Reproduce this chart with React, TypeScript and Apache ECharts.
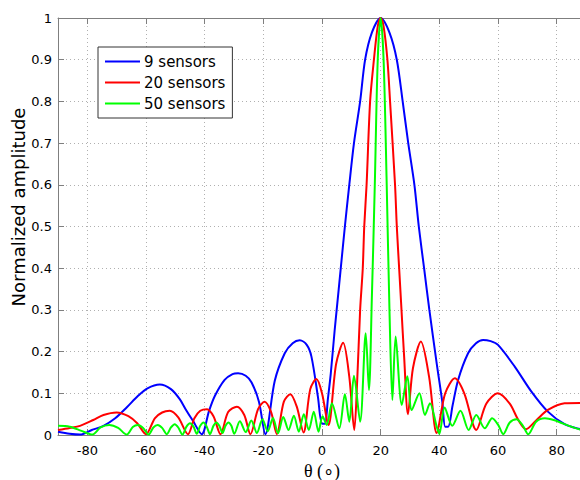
import React, { useEffect, useRef } from 'react';
import * as echarts from 'echarts';

const xTicks = [-80, -60, -40, -20, 0, 20, 40, 60, 80];
const seriesNames = ['9 sensors', '20 sensors', '50 sensors'];
const yTitle = 'Normalized amplitude';
const xTitle = 'θ (∘)';

const blueData: [number, number][] = [
  [-90, 0.008], [-86, 0.003], [-82.5, 0.001], [-78.5, 0.012], [-74.5, 0.022], [-70.5, 0.04],
  [-66.6, 0.066], [-62.7, 0.094], [-59.5, 0.112], [-55.3, 0.121], [-51.5, 0.11], [-48.5, 0.086],
  [-46.5, 0.062], [-44, 0.034], [-41, 0.002], [-38.5, 0.058], [-36.5, 0.094], [-33.2, 0.132],
  [-30.5, 0.146], [-28.6, 0.148], [-26, 0.142], [-24, 0.126], [-21.5, 0.08], [-19.3, 0.002],
  [-16.1, 0.13], [-12.7, 0.196], [-10, 0.22], [-7.6, 0.227], [-5.2, 0.216], [-3.6, 0.188],
  [-1.4, 0.092], [0, 0.027], [1, 0.027], [2, 0.086], [3, 0.148], [4.3, 0.25], [5, 0.3],
  [6.4, 0.4], [7.8, 0.5], [9.3, 0.6], [10.9, 0.7], [13, 0.8], [14.7, 0.9], [17, 0.965], [20, 1],
  [23, 0.965], [25.5, 0.9], [27.5, 0.8], [29.4, 0.7], [31.5, 0.6], [33, 0.5], [34.8, 0.4],
  [36.6, 0.3], [39.1, 0.172], [41, 0.08], [42, 0.02], [43, 0.02], [44.5, 0.07], [46.4, 0.132],
  [49.8, 0.196], [52.5, 0.22], [54.9, 0.228], [57.5, 0.225], [60, 0.216], [65.7, 0.164],
  [71.4, 0.104], [77, 0.056], [82.7, 0.026], [88, 0.014], [90, 0.012],
];

const redData: [number, number][] = [
  [-90, 0.012], [-86, 0.017], [-82.5, 0.022], [-78, 0.036], [-74.5, 0.048], [-70, 0.054],
  [-66, 0.045], [-63, 0.028], [-60, 0.002], [-57, 0.04], [-54.5, 0.054], [-51.9, 0.058],
  [-49, 0.042], [-45.7, 0.002], [-43.5, 0.04], [-41.5, 0.058], [-39.2, 0.062], [-37, 0.045],
  [-34.6, 0.002], [-32, 0.055], [-29, 0.068], [-26.5, 0.048], [-24.4, 0.002], [-21.8, 0.062],
  [-19.6, 0.08], [-17.4, 0.056], [-15.4, 0.002], [-13, 0.08], [-10.8, 0.098], [-8.6, 0.068],
  [-6.3, 0.006], [-4, 0.11], [-1.9, 0.134], [0, 0.1], [2.2, 0.024], [4.8, 0.17], [7.2, 0.221],
  [9.3, 0.14], [11, 0.012], [12, 0.13], [13, 0.3], [13.9, 0.4], [14.4, 0.5], [15.2, 0.6],
  [16.4, 0.8], [17.7, 0.9], [19, 0.98], [20, 1], [21, 0.98], [22.3, 0.9], [23.2, 0.8],
  [24.9, 0.6], [25.5, 0.5], [26.3, 0.4], [27.1, 0.3], [28, 0.188], [29.3, 0.05], [31, 0.16],
  [33.7, 0.224], [36.5, 0.14], [39.1, 0.005], [42, 0.1], [45.3, 0.136], [48.5, 0.1],
  [52.6, 0.012], [56, 0.075], [60, 0.1], [64, 0.075], [67, 0.035], [69.5, 0.014], [73, 0.035],
  [77, 0.06], [82.7, 0.076], [88, 0.077], [90, 0.077],
];

const greenData: [number, number][] = [
  [-90, 0.022], [-86, 0.02], [-82, 0.01], [-78.3, 0.001], [-75.5, 0.018], [-72.5, 0.024],
  [-69.5, 0.017], [-66.6, 0.001], [-64.5, 0.019], [-62.8, 0.024], [-61, 0.017], [-59.1, 0.001],
  [-57.5, 0.018], [-56, 0.024], [-54.5, 0.017], [-52.9, 0.002], [-51.5, 0.018], [-50.2, 0.026],
  [-49, 0.018], [-47.6, 0.001], [-46.2, 0.02], [-45, 0.028], [-43.8, 0.02], [-42.7, 0.003],
  [-41.5, 0.022], [-40.4, 0.03], [-39.3, 0.02], [-38.2, 0.002], [-37, 0.022], [-36, 0.03],
  [-35, 0.022], [-33.9, 0.005], [-32.9, 0.022], [-31.9, 0.03], [-30.9, 0.022], [-29.9, 0.003],
  [-28, 0.033], [-26, 0.007], [-24.1, 0.035], [-22.2, 0.005], [-20.3, 0.038], [-18.5, 0.009],
  [-16.7, 0.041], [-15, 0.004], [-13.2, 0.043], [-11.4, 0.012], [-9.6, 0.046], [-7.9, 0.008],
  [-6.2, 0.05], [-4.5, 0.012], [-2.8, 0.056], [-1.2, 0.008], [0.2, 0.045], [1.6, 0.024],
  [3.4, 0.076], [5.9, 0.016], [7.8, 0.098], [9.3, 0.032], [10.9, 0.142], [13, 0.032],
  [14.9, 0.244], [16, 0.108], [17, 0.33], [18, 0.6], [19, 0.9], [20, 1], [21, 0.9], [22, 0.62],
  [23, 0.3], [24, 0.084], [25.1, 0.236], [27.2, 0.072], [29.1, 0.141], [30.6, 0.06],
  [33.2, 0.1], [35.1, 0.048], [36.8, 0.076], [39.1, 0.02], [40, 0.003], [41.8, 0.066],
  [44.4, 0.022], [47.2, 0.058], [50, 0.012], [52.6, 0.048], [55.5, 0.016], [58, 0.04],
  [60, 0.025], [61.8, 0.002], [64, 0.03], [66.3, 0.038], [68.5, 0.022], [70.3, 0.002],
  [73, 0.032], [76, 0.04], [79, 0.036], [82, 0.028], [85, 0.02], [88, 0.013], [90, 0.011],
];

const seriesColors = ['#0000ff', '#ff0000', '#00ff00'];

export default function App() {
  const ref = useRef<HTMLDivElement>(null);
  useEffect(() => {
    if (!ref.current) return;
    const chart = echarts.init(ref.current, null, { renderer: 'svg' });
    const axisGray = '#7f7f7f';
    const gridLine = { show: true, lineStyle: { type: [1, 3] as any, color: '#b0b0b0', width: 1 } };
    const datasets = [blueData, redData, greenData];
    chart.setOption({
      animation: false,
      backgroundColor: '#ffffff',
      textStyle: { fontFamily: 'DejaVu Sans' },
      grid: { left: 58, top: 18, right: -6, bottom: 45, containLabel: false, outerBoundsMode: 'none' },
      legend: {
        orient: 'vertical',
        left: 98,
        top: 47,
        icon: 'rect',
        itemWidth: 35,
        itemHeight: 2,
        itemGap: 6,
        padding: [7, 7, 7, 7],
        borderColor: '#333333',
        borderWidth: 1,
        backgroundColor: '#ffffff',
        textStyle: { fontSize: 15, color: '#000', fontFamily: 'DejaVu Sans', padding: [0, 0, 0, -1] },
        data: seriesNames,
      },
      graphic: [
        {
          type: 'text',
          x: 18,
          y: 207,
          rotation: Math.PI / 2,
          style: {
            text: yTitle,
            fill: '#000',
            font: '18px "DejaVu Sans"',
            textAlign: 'center',
            textVerticalAlign: 'middle',
          },
        },
      ],
      xAxis: [
        {
          type: 'value',
          min: -90,
          max: 90,
          position: 'bottom',
          axisLine: { show: true, onZero: false, lineStyle: { color: axisGray } },
          axisTick: { show: true, inside: true, length: 6, customValues: xTicks, lineStyle: { color: axisGray } },
          axisLabel: { customValues: xTicks, color: '#000', fontSize: 13, margin: 9, fontFamily: 'DejaVu Sans' },
          splitLine: gridLine,
          name: xTitle,
          nameLocation: 'middle',
          nameGap: 25,
          nameTextStyle: { fontFamily: 'Liberation Serif', fontSize: 18, lineHeight: 18, color: '#000' },
        },
        {
          type: 'value',
          min: -90,
          max: 90,
          position: 'top',
          axisLine: { show: true, onZero: false, lineStyle: { color: axisGray } },
          axisTick: { show: true, inside: true, length: 6, customValues: xTicks, lineStyle: { color: axisGray } },
          axisLabel: { show: false },
          splitLine: { show: false },
        },
      ],
      yAxis: {
        type: 'value',
        min: 0,
        max: 1,
        interval: 0.1,
        axisLine: { show: true, onZero: false, lineStyle: { color: axisGray } },
        axisTick: { show: true, inside: true, length: 6, lineStyle: { color: axisGray } },
        axisLabel: { color: '#000', fontSize: 13, margin: 6, fontFamily: 'DejaVu Sans' },
        splitLine: gridLine,
      },
      series: datasets.map((d, i) => ({
        name: seriesNames[i],
        type: 'line',
        xAxisIndex: 0,
        data: d,
        showSymbol: false,
        symbol: 'none',
        smooth: 0.3,
        lineStyle: { color: seriesColors[i], width: 2 },
        itemStyle: { color: seriesColors[i] },
        z: 2 + i,
      })),
    });
    return () => chart.dispose();
  }, []);
  return <div ref={ref} style={{ position: 'absolute', left: 0, top: 0, width: 580, height: 480 }} />;
}
